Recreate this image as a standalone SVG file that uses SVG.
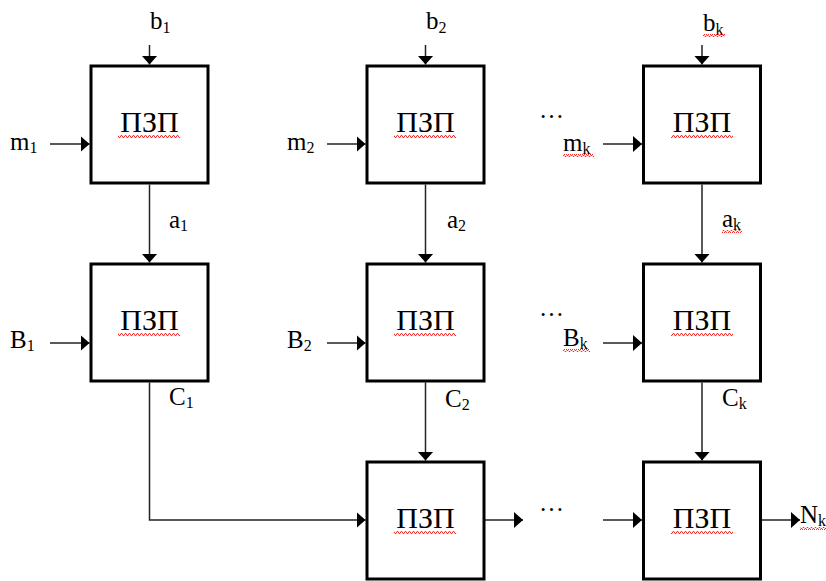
<svg xmlns="http://www.w3.org/2000/svg" width="826" height="581" viewBox="0 0 826 581">
<style>
.box{fill:#fff;stroke:#000;stroke-width:3}
.t{font-family:"Liberation Serif","Times New Roman",serif;fill:#000}
.big{font-size:30px;text-anchor:middle}
.lab{font-size:25px}
.sub{font-size:16px}
.con{fill:none;stroke:#222;stroke-width:1.5}
.wv{fill:url(#wavy)}
</style>
<defs>
<marker id="ah" viewBox="0 0 9 16" refX="9" refY="8" markerWidth="9" markerHeight="16" markerUnits="userSpaceOnUse" orient="auto">
<path d="M0,0 L9,8 L0,16 z" fill="#000"/>
</marker>
<pattern id="wavy" x="0" y="0" width="4" height="3" patternUnits="userSpaceOnUse">
<polyline points="0,2.5 1,0.5 2,0.5 3,2.5 4,2.5" fill="none" stroke="#ff2a2a" stroke-width="1"/>
</pattern>
</defs>
<rect width="826" height="581" fill="#fff"/>

<g id="connectors">
<path class="con" marker-end="url(#ah)" d="M149.5,45 V64.5"/>
<path class="con" marker-end="url(#ah)" d="M425.5,45 V64.5"/>
<path class="con" marker-end="url(#ah)" d="M702,45 V64.5"/>
<path class="con" marker-end="url(#ah)" d="M50,144 H89.5"/>
<path class="con" marker-end="url(#ah)" d="M327,144 H365.5"/>
<path class="con" marker-end="url(#ah)" d="M603,144 H642"/>
<path class="con" marker-end="url(#ah)" d="M149.5,184.5 V262.5"/>
<path class="con" marker-end="url(#ah)" d="M425.5,184.5 V262.5"/>
<path class="con" marker-end="url(#ah)" d="M702,184.5 V262.5"/>
<path class="con" marker-end="url(#ah)" d="M50,343 H89.5"/>
<path class="con" marker-end="url(#ah)" d="M327,343 H365.5"/>
<path class="con" marker-end="url(#ah)" d="M603,343 H642"/>
<path class="con" marker-end="url(#ah)" d="M149.5,382.5 V520 H365.5"/>
<path class="con" marker-end="url(#ah)" d="M425.5,382.5 V460.5"/>
<path class="con" marker-end="url(#ah)" d="M702,382.5 V460.5"/>
<path class="con" marker-end="url(#ah)" d="M484.5,520 H523"/>
<path class="con" marker-end="url(#ah)" d="M603,520 H642"/>
<path class="con" marker-end="url(#ah)" d="M762,520 H800"/>
</g>

<g id="n11"><rect class="box" x="91" y="66" width="117" height="117"/><text class="t big" x="149.5" y="132">ПЗП</text><rect class="wv" x="118" y="135" width="62" height="3"/></g>
<g id="n12"><rect class="box" x="367" y="66" width="117" height="117"/><text class="t big" x="425.5" y="132">ПЗП</text><rect class="wv" x="394" y="135" width="62" height="3"/></g>
<g id="n13"><rect class="box" x="643.5" y="66" width="117" height="117"/><text class="t big" x="702" y="132">ПЗП</text><rect class="wv" x="671" y="135" width="62" height="3"/></g>
<g id="n21"><rect class="box" x="91" y="264" width="117" height="117"/><text class="t big" x="149.5" y="330">ПЗП</text><rect class="wv" x="118" y="333" width="62" height="3"/></g>
<g id="n22"><rect class="box" x="367" y="264" width="117" height="117"/><text class="t big" x="425.5" y="330">ПЗП</text><rect class="wv" x="394" y="333" width="62" height="3"/></g>
<g id="n23"><rect class="box" x="643.5" y="264" width="117" height="117"/><text class="t big" x="702" y="330">ПЗП</text><rect class="wv" x="671" y="333" width="62" height="3"/></g>
<g id="n32"><rect class="box" x="367" y="462" width="117" height="117"/><text class="t big" x="425.5" y="528">ПЗП</text><rect class="wv" x="394" y="531" width="62" height="3"/></g>
<g id="n33"><rect class="box" x="643.5" y="462" width="117" height="117"/><text class="t big" x="702" y="528">ПЗП</text><rect class="wv" x="671" y="531" width="62" height="3"/></g>

<g id="labels">
<text class="t lab" x="150" y="29">b<tspan class="sub" dy="4">1</tspan></text>
<text class="t lab" x="426" y="29">b<tspan class="sub" dy="4">2</tspan></text>
<text class="t lab" x="703" y="31">b<tspan class="sub" dy="4">k</tspan></text>
<rect class="wv" x="703" y="34" width="22" height="3"/>
<text class="t lab" x="10" y="150">m<tspan class="sub" dy="3">1</tspan></text>
<text class="t lab" x="287" y="150">m<tspan class="sub" dy="3">2</tspan></text>
<text class="t lab" x="563" y="151">m<tspan class="sub" dy="3">k</tspan></text>
<rect class="wv" x="563" y="154" width="31" height="3"/>
<text class="t lab" x="169" y="228">a<tspan class="sub" dy="3">1</tspan></text>
<text class="t lab" x="447" y="228">a<tspan class="sub" dy="3">2</tspan></text>
<text class="t lab" x="722" y="227">a<tspan class="sub" dy="3">k</tspan></text>
<rect class="wv" x="722" y="230" width="20" height="3"/>
<text class="t lab" x="10" y="348">B<tspan class="sub" dy="3">1</tspan></text>
<text class="t lab" x="287" y="348">B<tspan class="sub" dy="3">2</tspan></text>
<text class="t lab" x="563" y="346">B<tspan class="sub" dy="3">k</tspan></text>
<rect class="wv" x="563" y="349" width="27" height="3"/>
<text class="t lab" x="169" y="405">C<tspan class="sub" dy="3">1</tspan></text>
<text class="t lab" x="445" y="407">C<tspan class="sub" dy="3">2</tspan></text>
<text class="t lab" x="722" y="406">C<tspan class="sub" dy="3">k</tspan></text>
<text class="t lab" x="800" y="523">N<tspan class="sub" dy="3">k</tspan></text>
<rect class="wv" x="800" y="527" width="26" height="3"/>
<text class="t lab" x="539" y="118">…</text>
<text class="t lab" x="539" y="316">…</text>
<text class="t lab" x="539" y="511">…</text>
</g>
</svg>
